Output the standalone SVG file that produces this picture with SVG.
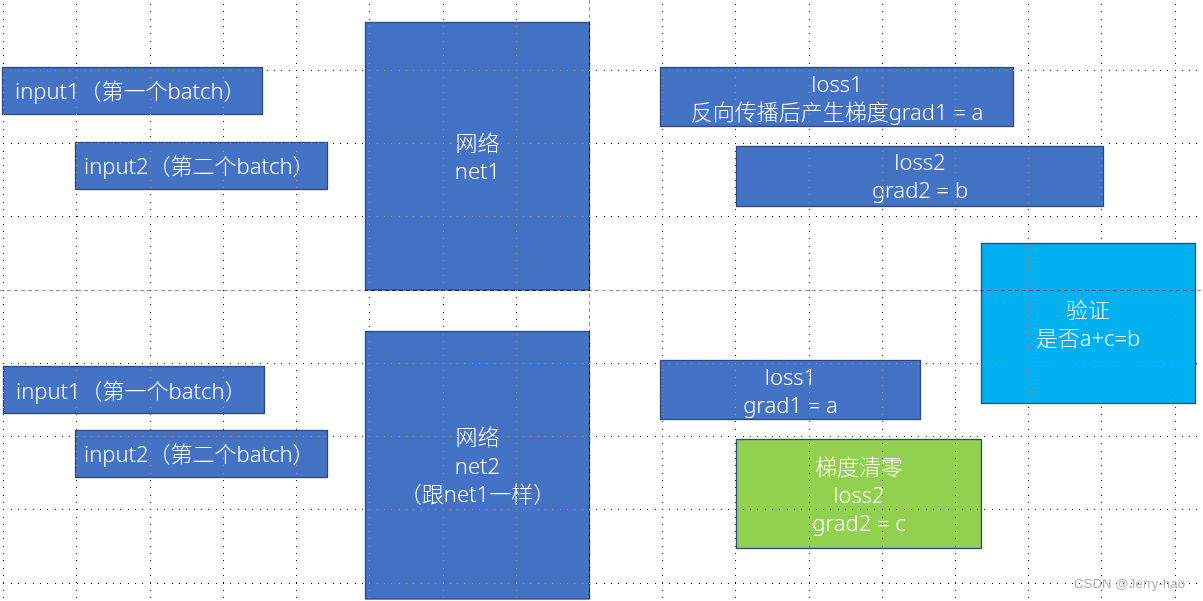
<svg xmlns="http://www.w3.org/2000/svg" width="1203" height="601" viewBox="0 0 1203 601">
<style>
.box{fill:#4472C4;stroke:#2A4A85;stroke-width:1.3}
.cyan{fill:#00B0F0;stroke:#2A4A85;stroke-width:1.3}
.green{fill:#92D050;stroke:#2A4A85;stroke-width:1.3}
.t{font-family:"Noto Sans","Noto Sans CJK SC",sans-serif;font-size:22px;font-weight:300;fill:#FFFFFF}
.c{text-anchor:middle}
.minor line{stroke:#FFFFFF;stroke-width:1;stroke-dasharray:1 6.32}
.major{stroke:#666666;stroke-width:1;stroke-dasharray:4 3;fill:none}
.wm{font-family:"Liberation Sans",Arial,sans-serif;font-size:13.3px;fill:#B0B0B0}
</style>
<rect x="0" y="0" width="1203" height="601" fill="#FFFFFF"/>
<g id="input1-top"><rect class="box" x="2.5" y="67.5" width="260" height="47"/><text class="t" x="15" y="99">input1（第一个batch）</text></g>
<g id="input2-top"><rect class="box" x="75.5" y="142.5" width="252" height="47"/><text class="t" x="84" y="174">input2（第二个batch）</text></g>
<g id="net1"><rect class="box" x="365.5" y="22.5" width="224" height="267.5"/><text class="t c" x="477.5" y="151">网络</text><text class="t c" x="477.5" y="179">net1</text></g>
<g id="loss1-top"><rect class="box" x="660.5" y="67.5" width="353" height="59"/><text class="t c" x="837" y="92">loss1</text><text class="t c" x="837" y="120">反向传播后产生梯度grad1 = a</text></g>
<g id="loss2-top"><rect class="box" x="736.5" y="146.5" width="367" height="60"/><text class="t c" x="920" y="170">loss2</text><text class="t c" x="920" y="197.5">grad2 = b</text></g>
<g id="verify"><rect class="cyan" x="981.5" y="243.5" width="214" height="160"/><text class="t c" x="1088" y="318">验证</text><text class="t c" x="1088" y="346">是否a+c=b</text></g>
<g id="input1-bottom"><rect class="box" x="3.5" y="366.5" width="261" height="47"/><text class="t" x="16" y="398.5">input1（第一个batch）</text></g>
<g id="input2-bottom"><rect class="box" x="75.5" y="430.5" width="252" height="47"/><text class="t" x="84" y="462">input2（第二个batch）</text></g>
<g id="net2"><rect class="box" x="365.5" y="331.5" width="224" height="267.5"/><text class="t c" x="477.5" y="445">网络</text><text class="t c" x="477.5" y="474">net2</text><text class="t c" x="477.5" y="502">（跟net1一样）</text></g>
<g id="loss1-bottom"><rect class="box" x="660.5" y="360.5" width="260" height="59"/><text class="t c" x="790.5" y="385">loss1</text><text class="t c" x="790.5" y="412.5">grad1 = a</text></g>
<g id="zero-grad"><rect class="green" x="736.5" y="439.5" width="245" height="109"/><text class="t c" x="859" y="475">梯度清零</text><text class="t c" x="859" y="503">loss2</text><text class="t c" x="859" y="531">grad2 = c</text></g>
<g id="connectors"></g>
<g id="grid" style="mix-blend-mode:difference" shape-rendering="crispEdges">
<line class="major" x1="589.5" y1="0" x2="589.5" y2="601"/>
<line class="major" x1="0" y1="290.5" x2="1203" y2="290.5"/>
<g class="minor">
<line x1="3.5" y1="-3.2" x2="3.5" y2="601"/>
<line x1="76.5" y1="-3.2" x2="76.5" y2="601"/>
<line x1="150.5" y1="-3.2" x2="150.5" y2="601"/>
<line x1="223.5" y1="-3.2" x2="223.5" y2="601"/>
<line x1="296.5" y1="-3.2" x2="296.5" y2="601"/>
<line x1="369.5" y1="-3.2" x2="369.5" y2="601"/>
<line x1="443.5" y1="-3.2" x2="443.5" y2="601"/>
<line x1="516.5" y1="-3.2" x2="516.5" y2="601"/>
<line x1="662.5" y1="-3.2" x2="662.5" y2="601"/>
<line x1="735.5" y1="-3.2" x2="735.5" y2="601"/>
<line x1="809.5" y1="-3.2" x2="809.5" y2="601"/>
<line x1="882.5" y1="-3.2" x2="882.5" y2="601"/>
<line x1="955.5" y1="-3.2" x2="955.5" y2="601"/>
<line x1="1028.5" y1="-3.2" x2="1028.5" y2="601"/>
<line x1="1101.5" y1="-3.2" x2="1101.5" y2="601"/>
<line x1="1175.5" y1="-3.2" x2="1175.5" y2="601"/>
<line x1="-4" y1="70.5" x2="1203" y2="70.5"/>
<line x1="-4" y1="143.5" x2="1203" y2="143.5"/>
<line x1="-4" y1="216.5" x2="1203" y2="216.5"/>
<line x1="-4" y1="363.5" x2="1203" y2="363.5"/>
<line x1="-4" y1="436.5" x2="1203" y2="436.5"/>
<line x1="-4" y1="509.5" x2="1203" y2="509.5"/>
<line x1="-4" y1="583.5" x2="1203" y2="583.5"/>
</g>
</g>
<text class="wm" x="1074" y="587.5">CSDN @Jerry-hao</text>
</svg>
